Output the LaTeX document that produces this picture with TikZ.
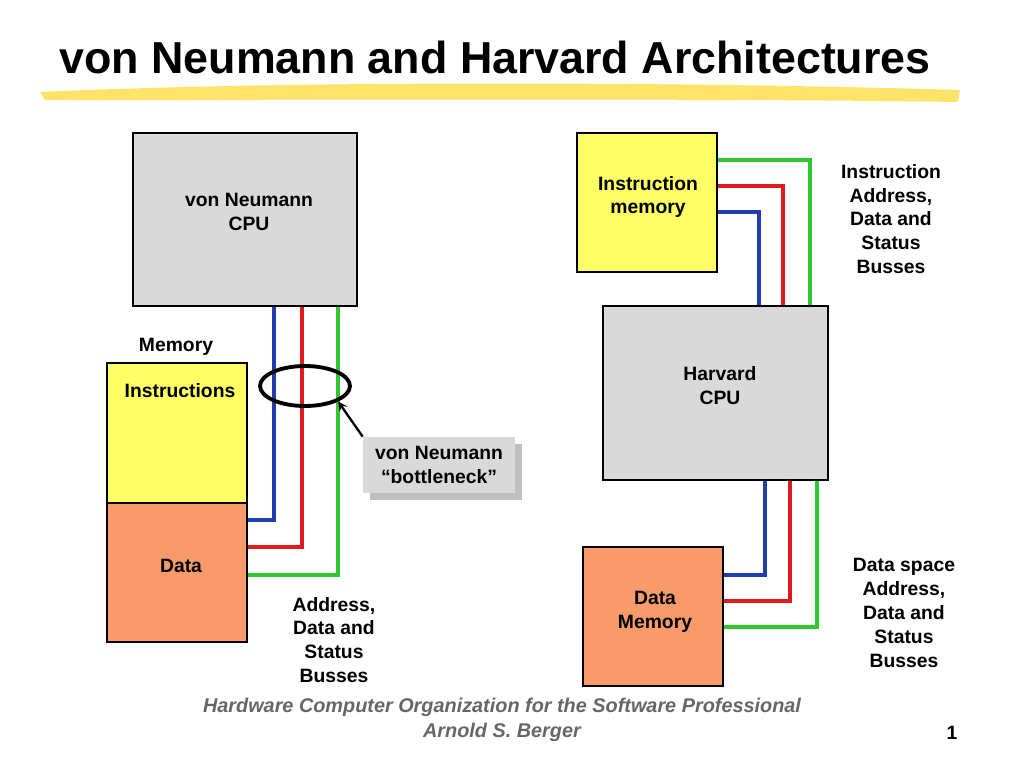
\documentclass[tikz,border=0pt]{standalone}
\usepackage{fontspec}
\setmainfont{Liberation Sans}
\usetikzlibrary{positioning,shadows,shapes.geometric}
\definecolor{boxgray}{HTML}{D9D9D9}
\definecolor{memyellow}{HTML}{FFFF66}
\definecolor{memorange}{HTML}{F89A6A}
\definecolor{busblue}{HTML}{1F3FB0}
\definecolor{busred}{HTML}{E01B1B}
\definecolor{busgreen}{HTML}{2FC82F}
\begin{document}
\begin{tikzpicture}[x=0.02cm,y=-0.02cm,font=\bfseries\fontsize{11}{13.6}\selectfont]
\tikzstyle{unit}=[draw=black,thick,inner sep=0pt]
\tikzstyle{bus}=[line width=2.2pt]
\tikzstyle{lbl}=[align=center]

\useasboundingbox (0,0) rectangle (1024,768);

% Titel
\fill[yellow!70!orange,opacity=0.6] (40,92) .. controls (300,80) and (700,82) .. (960,90)
  -- (958,102) .. controls (700,98) and (300,100) .. (45,100) -- cycle;
\node (title) at (495,57) {\fontsize{25.5}{30}\selectfont von Neumann and Harvard Architectures};

% von Neumann
\node[unit,fill=boxgray,minimum width=4.48cm,minimum height=3.46cm] (vcpu) at (245,219.5) {};
\node[lbl] (vcputxt) at (249,212) {von Neumann\\CPU};
\node (memtxt) at (176,347) {Memory};
\node[unit,fill=memyellow,minimum width=2.8cm,minimum height=2.8cm] (instr) at (177,433) {};
\node (instrtxt) at (180,391) {Instructions};
\node[unit,fill=memorange,minimum width=2.8cm,minimum height=2.78cm] (data) at (177,572.5) {};
\node (datatxt) at (181,566) {Data};

\coordinate (vb) at (274,520);
\coordinate (vr) at (302,547);
\coordinate (vg) at (338,575);
\draw[bus,busblue] (vcpu.south -| vb) -- (vb) -- (vb -| data.east);
\draw[bus,busred] (vcpu.south -| vr) -- (vr) -- (vr -| data.east);
\draw[bus,busgreen] (vcpu.south -| vg) -- (vg) -- (vg -| data.east);

\node[draw=black,line width=2.2pt,ellipse,minimum width=1.8cm,minimum height=0.8cm] (neck) at (305,386) {};
\node[fill=boxgray,drop shadow={shadow xshift=4pt,shadow yshift=-4pt,fill=gray},
  minimum width=3.04cm,minimum height=1.12cm,lbl] (callout) at (439,465) {von Neumann\\“bottleneck”};
\draw[->,>=stealth,line width=1.3pt] (callout.north west) -- (neck.south east);
\node[lbl] (vbus) at (334,640) {Address,\\Data and\\Status\\Busses};

% Harvard
\node[unit,fill=memyellow,minimum width=2.8cm,minimum height=2.78cm] (imem) at (647,202.5) {};
\node[lbl] (imemtxt) at (648,197) {Instruction\\memory};
\node[unit,fill=boxgray,minimum width=4.5cm,minimum height=3.48cm] (hcpu) at (715.5,393) {};
\node[lbl] (hcputxt) at (720,386) {Harvard\\CPU};
\node[unit,fill=memorange,minimum width=2.8cm,minimum height=2.78cm] (dmem) at (653,616.5) {};
\node[lbl] (dmemtxt) at (655,612) {Data\\Memory};

\coordinate (hb1) at (759,212);
\coordinate (hr1) at (783,186);
\coordinate (hg1) at (810,160);
\draw[bus,busblue] (imem.east |- hb1) -- (hb1) -- (hb1 |- hcpu.north);
\draw[bus,busred] (imem.east |- hr1) -- (hr1) -- (hr1 |- hcpu.north);
\draw[bus,busgreen] (imem.east |- hg1) -- (hg1) -- (hg1 |- hcpu.north);

\coordinate (hb2) at (765,575);
\coordinate (hr2) at (790,601);
\coordinate (hg2) at (817,627);
\draw[bus,busblue] (hcpu.south -| hb2) -- (hb2) -- (hb2 -| dmem.east);
\draw[bus,busred] (hcpu.south -| hr2) -- (hr2) -- (hr2 -| dmem.east);
\draw[bus,busgreen] (hcpu.south -| hg2) -- (hg2) -- (hg2 -| dmem.east);

\node[lbl] (ibus) at (891,219) {Instruction\\Address,\\Data and\\Status\\Busses};
\node[lbl] (dbus) at (904,613) {Data space\\Address,\\Data and\\Status\\Busses};

% Fusszeile
\node[text=gray!80!black,font=\bfseries\itshape\fontsize{11.3}{14}\selectfont,lbl] (foot) at (502,720)
  {Hardware Computer Organization for the Software Professional\\Arnold S. Berger};
\node (page) at (952,733) {1};
\end{tikzpicture}
\end{document}
